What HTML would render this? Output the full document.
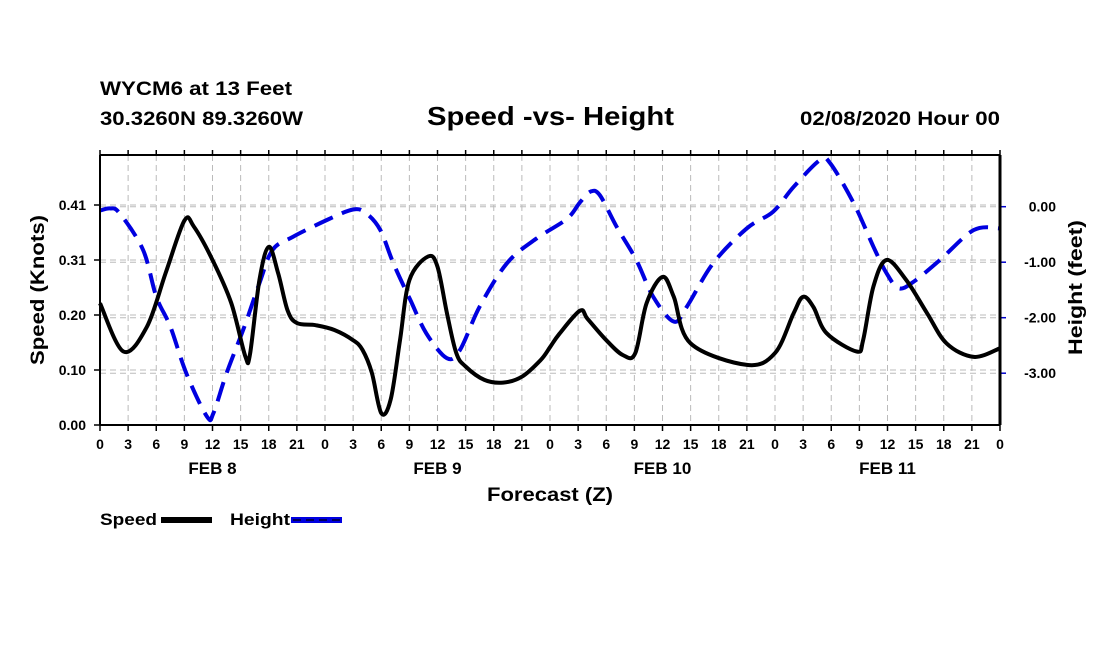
<!DOCTYPE html>
<html><head><meta charset="utf-8"><style>
body{margin:0;background:#fff;}
svg{display:block;font-family:"Liberation Sans",Arial,sans-serif;font-weight:bold;}
</style></head><body>
<svg id="chart" width="1100" height="650" viewBox="0 0 1100 650" xmlns="http://www.w3.org/2000/svg">
<rect width="1100" height="650" fill="#fff"/>
<text x="100" y="95" font-size="19" textLength="192" lengthAdjust="spacingAndGlyphs">WYCM6 at 13 Feet</text>
<text x="100" y="125" font-size="19" textLength="203" lengthAdjust="spacingAndGlyphs">30.3260N 89.3260W</text>
<text x="427" y="125" font-size="26" textLength="247" lengthAdjust="spacingAndGlyphs">Speed -vs- Height</text>
<text x="800" y="125" font-size="19" textLength="200" lengthAdjust="spacingAndGlyphs">02/08/2020 Hour 00</text>
<g id="grid"></g>
<g id="series"></g>
<g id="axes"></g>
<text x="487" y="501" font-size="19" textLength="126" lengthAdjust="spacingAndGlyphs">Forecast (Z)</text>
<text transform="translate(44,365) rotate(-90)" font-size="19" textLength="150" lengthAdjust="spacingAndGlyphs">Speed (Knots)</text>
<text transform="translate(1082,355) rotate(-90)" font-size="19" textLength="135" lengthAdjust="spacingAndGlyphs">Height (feet)</text>
<g>
<text x="100" y="525" font-size="17" textLength="57" lengthAdjust="spacingAndGlyphs">Speed</text>
<rect x="161" y="517" width="51" height="6" fill="#000"/>
<text x="230" y="525" font-size="17" textLength="60" lengthAdjust="spacingAndGlyphs">Height</text>
<rect x="291" y="517" width="51" height="6" fill="#0000e0"/>
<line x1="293" y1="520" x2="340" y2="520" stroke="#000030" stroke-width="1.5" stroke-dasharray="8 5"/>
</g>
</svg>
<script>
const speedHours=[0,2.5,5,7,9,10,12,14,15.5,16,17,18,19,20,21,23,25,27,28,29,30,31,32,33,35,36,37,38,39,41,43,45,47,48,49,51.2,52,54,55.8,57.1,58.3,60,61.2,63,69,72,74,75,76.1,77.5,80.7,81.4,82.5,83.9,86,88.2,90.3,93.2,96];
const speedVals=[0.227,0.137,0.183,0.283,0.381,0.370,0.3075,0.227,0.128,0.132,0.270,0.332,0.283,0.214,0.190,0.186,0.177,0.158,0.140,0.097,0.022,0.047,0.158,0.270,0.314,0.295,0.209,0.134,0.109,0.084,0.079,0.090,0.121,0.145,0.170,0.213,0.198,0.158,0.130,0.134,0.227,0.276,0.239,0.152,0.112,0.134,0.209,0.239,0.220,0.171,0.137,0.158,0.258,0.3075,0.270,0.209,0.152,0.127,0.143];
const heightHours=[0,1.07,2.1,4.6,6,7.5,9.2,11.4,12.1,13.5,15.4,17,18.4,20.6,24.2,27,28.4,29.9,31.3,33.1,34.8,37,38.4,40.5,43.4,46.5,49.8,51.2,52.3,53.3,55.1,57.2,59,61.2,62.6,65.4,69,71.8,74,76.8,77.9,80.4,82.5,83.9,85.2,86.8,89.6,93.2,96];
const heightVals=[-0.07,-0.03,-0.12,-0.78,-1.62,-2.16,-3.0,-3.78,-3.72,-3.0,-2.16,-1.38,-0.78,-0.54,-0.24,-0.05,-0.12,-0.42,-1.02,-1.68,-2.28,-2.73,-2.58,-1.8,-1.02,-0.58,-0.22,0.08,0.27,0.21,-0.36,-0.96,-1.62,-2.07,-1.8,-1.02,-0.39,-0.09,0.36,0.84,0.78,0.06,-0.72,-1.2,-1.47,-1.35,-0.96,-0.42,-0.39];
const hourTicks=[0,3,6,9,12,15,18,21,0,3,6,9,12,15,18,21,0,3,6,9,12,15,18,21,0,3,6,9,12,15,18,21,0];
const dayLabels=["FEB 8","FEB 9","FEB 10","FEB 11"];
const speedTicks=[0,0.1025,0.205,0.3075,0.41];
const speedTickLabels=["0.00","0.10","0.20","0.31","0.41"];
const heightTicks=[0,-1,-2,-3];
const heightTickLabels=["0.00","-1.00","-2.00","-3.00"];

const L=100,R=1000,T=155,B=425;
const xs=h=>L+(R-L)*h/96;
const ys=v=>B-v*(55/0.1025);
const yh=v=>206.7-v*55.5;
const NS="http://www.w3.org/2000/svg";
function mk(tag,attrs,parent){const e=document.createElementNS(NS,tag);for(const k in attrs)e.setAttribute(k,attrs[k]);parent.appendChild(e);return e;}
const grid=document.getElementById('grid'),axes=document.getElementById('axes'),series=document.getElementById('series');
hourTicks.forEach((t,i)=>{const x=xs(i*3);
 if(i>0&&i<hourTicks.length-1){const g=mk('line',{x1:x,y1:T,x2:x,y2:B,stroke:'#bbb','stroke-width':1,'stroke-dasharray':'6 4'},grid);
 
 }
 mk('line',{x1:x,y1:B,x2:x,y2:B+6,stroke:'#000','stroke-width':1.5},axes);
 mk('line',{x1:x,y1:T,x2:x,y2:T-5,stroke:'#000','stroke-width':1.5},axes);
 const tx=mk('text',{x:x,y:449,'font-size':14,'text-anchor':'middle'},axes);tx.textContent=t;
 
 
});
dayLabels.forEach((d,i)=>{const tx=mk('text',{x:xs(12+24*i),y:474,'font-size':17,'text-anchor':'middle'},axes);tx.textContent=d;
 
 });
speedTicks.forEach((v,i)=>{const y=ys(v);
 if(i>0){const g=mk('line',{x1:L,y1:y,x2:R,y2:y,stroke:'#bbb','stroke-width':1,'stroke-dasharray':'6 4'},grid);
 
 }
 mk('line',{x1:L-6,y1:y,x2:L,y2:y,stroke:'#000','stroke-width':1.5},axes);
 const tx=mk('text',{x:L-14,y:y+5,'font-size':14,'text-anchor':'end'},axes);tx.textContent=speedTickLabels[i];
 
 });
heightTicks.forEach((v,i)=>{const y=yh(v);
 const g=mk('line',{x1:L,y1:y,x2:R,y2:y,stroke:'#bbb','stroke-width':1,'stroke-dasharray':'6 4'},grid);
 
 
 mk('line',{x1:R,y1:y,x2:R+6,y2:y,stroke:'#00c','stroke-width':1.5},axes);
 const tx=mk('text',{x:R+56,y:y+5,'font-size':14,'text-anchor':'end'},axes);tx.textContent=heightTickLabels[i];
 
 });
mk('line',{x1:L,y1:T,x2:R,y2:T,stroke:'#000','stroke-width':2},axes);
mk('line',{x1:L,y1:B,x2:R,y2:B,stroke:'#000','stroke-width':2},axes);
mk('line',{x1:L,y1:T,x2:L,y2:B,stroke:'#000','stroke-width':2},axes);
mk('line',{x1:R,y1:T,x2:R,y2:B,stroke:'#000','stroke-width':3},axes);
function smooth(pts){let d='M'+pts[0][0]+','+pts[0][1];
 for(let i=0;i<pts.length-1;i++){const p0=pts[Math.max(0,i-1)],p1=pts[i],p2=pts[i+1],p3=pts[Math.min(pts.length-1,i+2)];
 const c1=[p1[0]+(p2[0]-p0[0])/6,p1[1]+(p2[1]-p0[1])/6],c2=[p2[0]-(p3[0]-p1[0])/6,p2[1]-(p3[1]-p1[1])/6];
 d+=' C'+c1[0].toFixed(1)+','+c1[1].toFixed(1)+' '+c2[0].toFixed(1)+','+c2[1].toFixed(1)+' '+p2[0].toFixed(1)+','+p2[1].toFixed(1);}
 return d;}
const hp=mk('path',{d:smooth(heightHours.map((h,i)=>[xs(h),yh(heightVals[i])])),fill:'none',stroke:'#0000e0','stroke-width':4,'stroke-dasharray':'20 10'},series);


const sp=mk('path',{d:smooth(speedHours.map((h,i)=>[xs(h),ys(speedVals[i])])),fill:'none',stroke:'#000','stroke-width':4,'stroke-linejoin':'round'},series);


</script>
</body></html>
